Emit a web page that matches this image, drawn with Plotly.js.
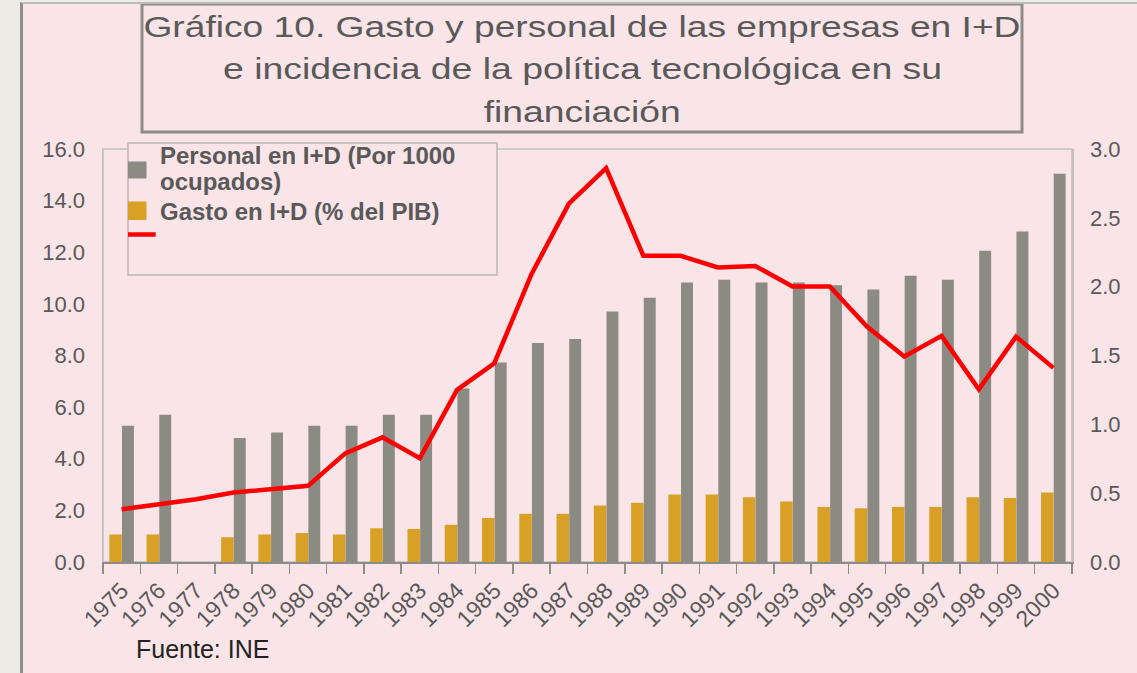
<!DOCTYPE html>
<html>
<head>
<meta charset="utf-8">
<script src="https://cdn.plot.ly/plotly-3.0.1.min.js"></script>
<style>
  html, body { margin: 0; padding: 0; background: #EDEBE5; width: 1137px; height: 673px; overflow: hidden; }
  #frame { position: absolute; left: 20px; top: 2px; border-left: 3px solid #8f8f8a; border-top: 2px solid #bdbcb6; }
  #chart { width: 1114px; height: 669px; }
</style>
</head>
<body>
<div id="frame"><div id="chart"></div></div>
<script>
// ---- data ----
const years = ['1975','1976','1977','1978','1979','1980','1981','1982','1983','1984','1985','1986','1987',
               '1988','1989','1990','1991','1992','1993','1994','1995','1996','1997','1998','1999','2000'];
// Personal en I+D (por 1000 ocupados) - right axis
const personal = [0.99,1.07,null,0.90,0.94,0.99,0.99,1.07,1.07,1.26,1.45,1.59,1.62,1.82,1.92,2.03,2.05,2.03,2.03,2.01,1.98,2.08,2.05,2.26,2.40,2.82];
// Gasto en I+D (% del PIB) - right axis
const gasto = [0.20,0.20,null,0.18,0.20,0.21,0.20,0.245,0.24,0.27,0.32,0.35,0.35,0.41,0.43,0.49,0.49,0.47,0.44,0.40,0.39,0.40,0.40,0.47,0.465,0.505];
// Incidencia de la política tecnológica en su financiación (%) - left axis
const incidencia = [2.04,2.25,2.43,2.69,2.82,2.95,4.21,4.83,4.02,6.67,7.70,11.16,13.88,15.26,11.86,11.86,11.41,11.47,10.67,10.67,9.12,7.96,8.76,6.69,8.73,7.52];

const titleLines = ['Gráfico 10. Gasto y personal de las empresas en I+D',
                    'e incidencia de la política tecnológica en su',
                    'financiación'];
const legendLines = ['Personal en I+D (Por 1000', 'ocupados)', 'Gasto en I+D (% del PIB)'];
const sourceText = 'Fuente: INE';

// ---- style ----
const PINK = '#F9E4E7', GRAY = '#8B8B84', GOLD = '#D9A026', RED = '#FF0000', TXT = '#595959';
const FONT = 'Liberation Sans, Arial, sans-serif';

// page pixel -> paper coords (plot area page x 103..1072, y 149..562)
const X = px => (px - 103) / 969;
const Y = py => (562 - py) / 413;

// bars on the right-hand axis (y), line on the left-hand axis (y2, drawn on top)
const traces = [
  { type: 'bar', x: years, y: gasto, yaxis: 'y', marker: { color: GOLD }, width: 0.335, offset: -0.33,
    name: 'Gasto en I+D (% del PIB)', showlegend: false, hoverinfo: 'x+y' },
  { type: 'bar', x: years, y: personal, yaxis: 'y', marker: { color: GRAY }, width: 0.32, offset: 0.01,
    name: 'Personal en I+D (Por 1000 ocupados)', showlegend: false, hoverinfo: 'x+y' },
  { type: 'scatter', mode: 'lines', x: years, y: incidencia, yaxis: 'y2', line: { color: RED, width: 4.5 },
    connectgaps: true, showlegend: false, hoverinfo: 'x+y' }
];

const titleY = [26, 69, 112];
const annotations = titleLines.map((t, i) => ({
  text: t, xref: 'paper', yref: 'paper', x: X(582), y: Y(titleY[i]), xanchor: 'center', yanchor: 'middle',
  showarrow: false, font: { family: FONT, size: 30, color: TXT }
}));
const legendY = [155, 182, 211];
legendLines.forEach((t, i) => annotations.push({
  text: t, xref: 'paper', yref: 'paper', x: X(158), y: Y(legendY[i]), xanchor: 'left', yanchor: 'middle',
  showarrow: false, font: { family: FONT, size: 24, color: TXT, weight: 'bold' }
}));
annotations.push(
  { text: sourceText, xref: 'paper', yref: 'paper', x: X(134), y: Y(649), xanchor: 'left', yanchor: 'middle',
    showarrow: false, font: { family: FONT, size: 25, color: '#222222' } }
);

const shapes = [
  // plot frame
  { type: 'rect', xref: 'paper', yref: 'paper', x0: 0, x1: 1, y0: 0, y1: 1, line: { color: '#C6BEBE', width: 1.5 }, layer: 'below' },
  // title box
  { type: 'rect', xref: 'paper', yref: 'paper', x0: X(142), x1: X(1022), y0: Y(132), y1: Y(4), line: { color: '#8C8C8A', width: 3 } },
  // legend box
  { type: 'rect', xref: 'paper', yref: 'paper', x0: X(128), x1: X(497), y0: Y(275), y1: Y(143), line: { color: '#BDB5B5', width: 1.5 }, fillcolor: PINK, layer: 'above' },
  { type: 'rect', xref: 'paper', yref: 'paper', x0: X(128), x1: X(146.5), y0: Y(178.5), y1: Y(161.5), line: { width: 0 }, fillcolor: GRAY },
  { type: 'rect', xref: 'paper', yref: 'paper', x0: X(128), x1: X(146.5), y0: Y(220), y1: Y(201.5), line: { width: 0 }, fillcolor: GOLD },
  { type: 'line', xref: 'paper', yref: 'paper', x0: X(128), x1: X(155.7), y0: Y(234.5), y1: Y(234.5), line: { color: RED, width: 4.5 } }
];

const layout = {
  width: 1114, height: 669,
  margin: { l: 80, r: 65, t: 145, b: 111 },
  paper_bgcolor: PINK, plot_bgcolor: PINK,
  font: { family: FONT, color: TXT, size: 22 },
  showlegend: false,
  barmode: 'overlay',
  xaxis: {
    type: 'category', tickangle: -45, tickson: 'boundaries', ticks: 'outside', ticklen: 10, tickwidth: 1.5,
    tickcolor: '#8C8C8C', showline: true, linecolor: '#8C8C8C', linewidth: 2, showgrid: false, ticklabelstandoff: 4,
    tickfont: { family: FONT, size: 23, color: TXT }, range: [-0.5, 25.5]
  },
  yaxis: {
    range: [0, 3], dtick: 0.5, tick0: 0, tickformat: '.1f', side: 'right', showgrid: false,
    zeroline: false, showline: true, linecolor: '#C6BEBE', linewidth: 1.5, ticks: '', ticklabelstandoff: 12,
    tickfont: { family: FONT, size: 22, color: TXT }
  },
  yaxis2: {
    range: [0, 16], dtick: 2, tick0: 0, tickformat: '.1f', overlaying: 'y', side: 'left', showgrid: false, zeroline: false,
    showline: true, linecolor: '#C6BEBE', linewidth: 1.5, ticks: '', ticklabelstandoff: 12,
    tickfont: { family: FONT, size: 22, color: TXT }
  },
  annotations: annotations,
  shapes: shapes
};

const titleWidths = [877, 719, 197];
Plotly.newPlot('chart', traces, layout, { displayModeBar: false, staticPlot: true }).then(gd => {
  // stretch title lines horizontally to match reference proportions
  titleWidths.forEach((w, i) => {
    const t = gd.querySelector('.annotation[data-index="' + i + '"] text.annotation-text');
    if (t) { t.setAttribute('textLength', w); t.setAttribute('lengthAdjust', 'spacingAndGlyphs'); }
  });
});
</script>
</body>
</html>
